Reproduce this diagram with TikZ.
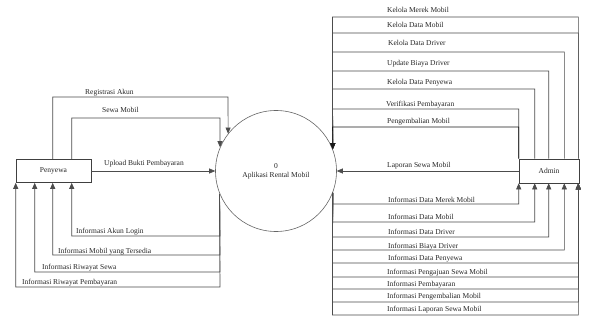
\documentclass[tikz,border=0pt]{standalone}
\usepackage{fontspec}
\setmainfont{Liberation Serif}
\usetikzlibrary{arrows.meta}
\begin{document}
\begin{tikzpicture}[x=1pt,y=-1pt,
  flow/.style={draw=black!70, line width=0.6pt, -{Triangle[length=6pt,width=5pt]}},
  lbl/.style={anchor=base west, inner sep=0pt, font=\fontsize{7.5}{9}\selectfont, text=black!85},
  entity/.style={draw=black!75, line width=0.6pt, minimum width=75pt, minimum height=23pt,
    inner sep=0pt, font=\fontsize{7.5}{9}\selectfont, text=black!85},
  process/.style={circle, draw=black!60, line width=0.6pt, minimum size=121pt, inner sep=0pt,
    align=center, font=\fontsize{7.5}{9.3}\selectfont, text=black!85}]

\useasboundingbox[fill=white] (0,0) rectangle (589,326);

% external entities and the process
\node[entity] (pen) at (53.5,171) {Penyewa};
\node[entity, minimum width=60pt, minimum height=24pt] (adm) at (549,171) {Admin};
\node[process] (proc) at (276,171) {0\\Aplikasi Rental Mobil};

% Penyewa -> process
\draw[flow] ([xshift=37pt]pen.north west) |- (228,97) -- (proc.142.1);
\draw[flow] ([xshift=56pt]pen.north west) |- (220,118) -- (proc.157.1);
\draw[flow] (pen.east) -- (proc.west);
\node[lbl] (l1) at (85,95) {Registrasi Akun};
\node[lbl] (l2) at (102,113) {Sewa Mobil};
\node[lbl] (l3) at (104,165) {Upload Bukti Pembayaran};

% process -> Penyewa
\draw[flow] (proc.202.9) -- (220,236) -| ([xshift=56pt]pen.south west);
\draw[flow] (proc.202.9) -- (220,255) -| ([xshift=37pt]pen.south west);
\draw[flow] (proc.202.9) -- (220,272) -| ([xshift=19pt]pen.south west);
\draw[flow] (proc.202.9) -- (220,287) -| (pen.south west);
\node[lbl] (l4) at (76,233) {Informasi Akun Login};
\node[lbl] (l5) at (58,253) {Informasi Mobil yang Tersedia};
\node[lbl] (l6) at (42,269) {Informasi Riwayat Sewa};
\node[lbl] (l7) at (22,284) {Informasi Riwayat Pembayaran};

% Admin -> process
\draw[flow] ([xshift=-1pt]adm.north east) |- (332.5,17) -- (proc.21.7);
\draw[flow] ([xshift=-1pt]adm.north east) |- (332.5,33) -- (proc.21.7);
\draw[flow] ([xshift=-15pt]adm.north east) |- (332.5,52) -- (proc.21.7);
\draw[flow] ([xshift=30pt]adm.north west) |- (332.5,71) -- (proc.21.7);
\draw[flow] ([xshift=16pt]adm.north west) |- (332.5,89) -- (proc.21.7);
\draw[flow] (adm.north west) |- (332.5,109) -- (proc.21.7);
\draw[flow, draw=black!90] (adm.north west) |- (332.5,127) -- (proc.21.7);
\draw[flow] (adm.west) -- (proc.east);
\node[lbl] (r1) at (387,12.3) {Kelola Merek Mobil};
\node[lbl] (r2) at (387,27.3) {Kelola Data Mobil};
\node[lbl] (r3) at (388,45.3) {Kelola Data Driver};
\node[lbl] (r4) at (387,65.3) {Update Biaya Driver};
\node[lbl] (r5) at (387,84.3) {Kelola Data Penyewa};
\node[lbl] (r6) at (386,106.3) {Verifikasi Pembayaran};
\node[lbl] (r7) at (387,123.3) {Pengembalian Mobil};
\node[lbl] (r8) at (387,167.3) {Laporan Sewa Mobil};

% process -> Admin
\draw[flow] (proc.-21.7) -- (332.5,204) -| (adm.south west);
\draw[flow] (proc.-21.7) -- (332.5,222) -| ([xshift=16pt]adm.south west);
\draw[flow] (proc.-21.7) -- (332.5,237) -| ([xshift=30pt]adm.south west);
\draw[flow] (proc.-21.7) -- (332.5,250) -| ([xshift=-15pt]adm.south east);
\draw[flow] (proc.-21.7) -- (332.5,263) -| ([xshift=-1pt]adm.south east);
\draw[flow] (proc.-21.7) -- (332.5,277) -| ([xshift=-1pt]adm.south east);
\draw[flow] (proc.-21.7) -- (332.5,289) -| ([xshift=-1pt]adm.south east);
\draw[flow] (proc.-21.7) -- (332.5,302) -| ([xshift=-1pt]adm.south east);
\draw[flow] (proc.-21.7) -- (332.5,315) -| ([xshift=-1pt]adm.south east);
\node[lbl] (b1) at (388,202.3) {Informasi Data Merek Mobil};
\node[lbl] (b2) at (388,219.3) {Informasi Data Mobil};
\node[lbl] (b3) at (388,234.3) {Informasi Data Driver};
\node[lbl] (b4) at (388,248.3) {Informasi Biaya Driver};
\node[lbl] (b5) at (388,260.3) {Informasi Data Penyewa};
\node[lbl] (b6) at (387,274.3) {Informasi Pengajuan Sewa Mobil};
\node[lbl] (b7) at (387,286.3) {Informasi Pembayaran};
\node[lbl] (b8) at (387,298.3) {Informasi Pengembalian Mobil};
\node[lbl] (b9) at (387,311.3) {Informasi Laporan Sewa Mobil};
\end{tikzpicture}
\end{document}
